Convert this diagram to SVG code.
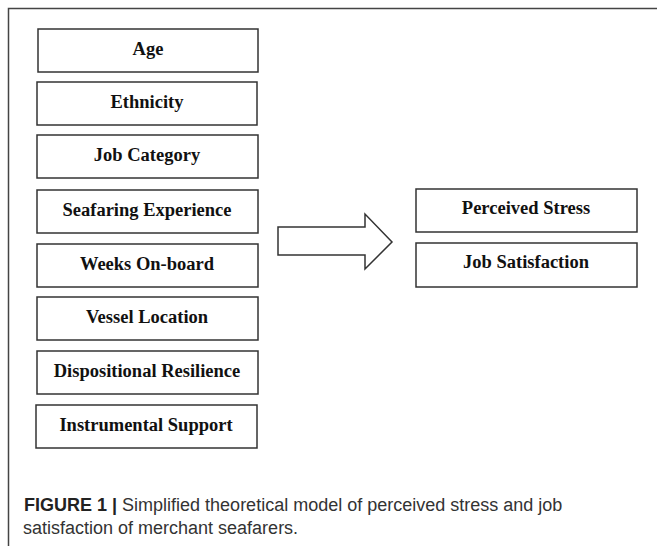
<svg xmlns="http://www.w3.org/2000/svg" width="657" height="546" viewBox="0 0 657 546">
<style>
.box{fill:#fff;stroke:#333;stroke-width:1.5}
.lbl{font-family:"Liberation Serif","Times New Roman",serif;font-weight:bold;font-size:18.5px;fill:#111;text-anchor:middle}
.cap{font-family:"Liberation Sans",Arial,sans-serif;font-size:18px;fill:#333}
.frame{fill:none;stroke:#444;stroke-width:1.5}
</style>
<rect width="657" height="546" fill="#fff"/>
<path class="frame" d="M8.5,546 V8.5 H657"/>
<g id="age"><rect class="box" x="38" y="29" width="220" height="43"/><text class="lbl" x="148" y="54.5">Age</text></g>
<g id="ethnicity"><rect class="box" x="37" y="82" width="220" height="43"/><text class="lbl" x="147" y="107.5">Ethnicity</text></g>
<g id="job-category"><rect class="box" x="37" y="135" width="221" height="43"/><text class="lbl" x="147" y="160.5">Job Category</text></g>
<g id="seafaring-experience"><rect class="box" x="37" y="190" width="221" height="43"/><text class="lbl" x="147" y="215.5">Seafaring Experience</text></g>
<g id="weeks-onboard"><rect class="box" x="37" y="244" width="221" height="43"/><text class="lbl" x="147" y="269.5">Weeks On-board</text></g>
<g id="vessel-location"><rect class="box" x="37" y="297" width="221" height="43"/><text class="lbl" x="147" y="322.5">Vessel Location</text></g>
<g id="dispositional-resilience"><rect class="box" x="37" y="351" width="221" height="43"/><text class="lbl" x="147" y="376.5">Dispositional Resilience</text></g>
<g id="instrumental-support"><rect class="box" x="36" y="405" width="221" height="43"/><text class="lbl" x="146" y="430.5">Instrumental Support</text></g>
<g id="perceived-stress"><rect class="box" x="416" y="189" width="221" height="43"/><text class="lbl" x="526" y="214">Perceived Stress</text></g>
<g id="job-satisfaction"><rect class="box" x="416" y="243" width="221" height="44"/><text class="lbl" x="526" y="268">Job Satisfaction</text></g>
<g id="connectors">
<path class="box" d="M278,227 H365 V214 L392,242 L365,269 V255 H278 Z"/>
</g>
<g id="caption">
<text class="cap" x="24" y="511"><tspan font-weight="bold" fill="#222">FIGURE 1 |</tspan> Simplified theoretical model of perceived stress and job</text>
<text class="cap" x="23" y="534">satisfaction of merchant seafarers.</text>
</g>
</svg>
